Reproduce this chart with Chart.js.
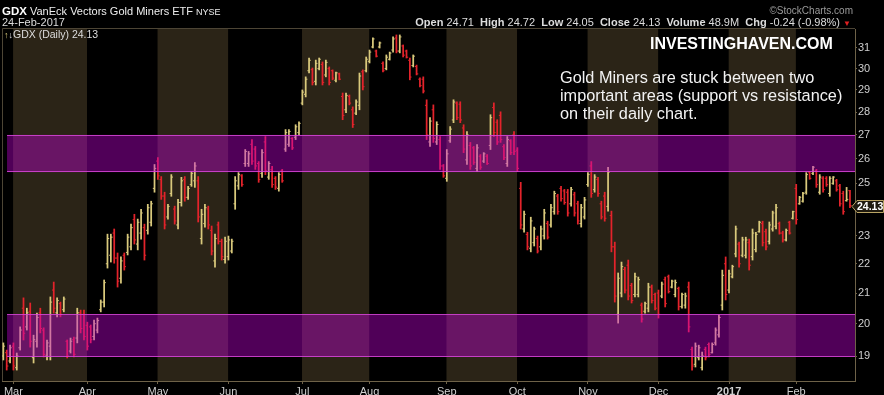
<!DOCTYPE html>
<html>
<head>
<meta charset="utf-8">
<script src="https://cdn.jsdelivr.net/npm/chart.js@4.4.1/dist/chart.umd.min.js"></script>
<style>
    body { margin: 0; background: #000; }
    #wrap { position: relative; width: 884px; height: 395px; overflow: hidden; background: #000;
            font-family: "Liberation Sans", Arial, sans-serif; color: #dcdcdc; }
    #chart { position: absolute; left: 0; top: 0; }
    .txt { position: absolute; white-space: nowrap; line-height: 13px; }
</style>
</head>
<body>
<div id="wrap">
    <canvas id="chart" width="884" height="395"></canvas>

    <div class="txt" style="left:2px;top:5px;font-size:11px;color:#eee;">
        <b style="font-size:11.5px;color:#fff;">GDX</b> VanEck Vectors Gold Miners ETF <span style="font-size:9px;">NYSE</span>
    </div>
    <div class="txt" style="left:2px;top:16px;font-size:11px;">24-Feb-2017</div>
    <div class="txt" style="right:31px;top:4px;font-size:10px;color:#9a9a9a;">©StockCharts.com</div>
    <div class="txt" style="right:33px;top:16px;font-size:11px;color:#ddd;">
        <b>Open</b> 24.71 &nbsp;<b>High</b> 24.72 &nbsp;<b>Low</b> 24.05 &nbsp;<b>Close</b> 24.13 &nbsp;<b>Volume</b> 48.9M &nbsp;<b>Chg</b> -0.24 (-0.98%) <span style="color:#e02020;font-size:8px;">▼</span>
    </div>
    <div class="txt" style="left:4px;top:28px;font-size:10.5px;color:#ddd;">
        <span style="color:#d8c878;font-size:9px;">↑</span><span style="color:#e8e8e8;font-size:9px;">↓</span>GDX (Daily) 24.13
    </div>

    <div class="txt" style="left:650px;top:36px;font-size:16px;line-height:16px;font-weight:bold;color:#fff;">INVESTINGHAVEN.COM</div>
    <div class="txt" style="left:560px;top:68px;font-size:16.3px;line-height:18px;color:#f2f2f2;">
        Gold Miners are stuck between two<br>important areas (support vs resistance)<br>on their daily chart.
    </div>
</div>

<script>
// Дневные бары GDX, 25-Feb-2016 .. 24-Feb-2017 (253 торговых дня)
const highs = [
    19.40,19.18,19.33,19.40,19.09,19.90,20.84,20.50,20.67,19.64,
    20.34,20.50,19.87,19.49,20.87,21.37,20.84,20.70,20.87,19.49,
    19.55,19.58,20.50,20.44,20.44,20.05,19.96,20.12,20.18,20.77,
    21.44,23.06,23.06,23.25,22.38,22.24,22.38,23.06,23.43,23.80,
    23.62,23.99,23.43,24.18,24.30,25.76,26.04,25.27,24.65,24.18,
    25.35,24.11,24.37,25.24,25.27,24.88,25.47,25.84,25.27,23.99,
    24.18,24.11,23.36,23.06,23.51,22.88,22.95,22.99,22.88,25.27,
    25.43,25.35,26.38,26.30,26.80,26.51,25.88,26.38,26.93,25.88,
    25.68,25.27,25.43,25.56,27.23,27.23,26.89,27.44,27.57,29.00,
    29.61,30.51,30.03,30.41,30.51,30.32,30.41,30.08,29.94,29.84,
    29.79,28.86,28.86,28.77,28.23,28.55,29.79,29.94,30.56,30.90,
    31.50,30.90,31.30,30.32,30.66,30.80,31.55,31.65,31.65,31.15,
    30.90,30.51,30.66,30.17,29.56,29.61,28.55,27.75,28.32,27.57,
    26.93,25.76,26.38,27.36,28.55,28.46,28.46,27.44,27.14,26.68,
    26.51,26.59,26.17,26.25,26.17,27.88,28.41,27.66,28.01,26.59,
    26.93,26.80,27.14,26.46,25.04,23.92,23.13,23.69,23.32,22.99,
    23.36,23.99,23.54,24.18,24.69,24.57,24.88,24.76,24.76,24.84,
    24.65,24.30,24.18,24.45,25.43,25.88,25.35,25.24,24.30,24.65,
    25.64,23.92,22.77,21.68,22.06,21.88,22.13,21.33,21.68,21.54,
    20.67,20.70,21.33,21.27,21.00,21.10,21.37,21.54,21.61,21.44,
    21.44,21.20,21.00,21.00,21.37,19.27,19.40,19.33,19.12,19.27,
    19.40,19.40,19.87,20.28,21.78,22.24,21.78,21.95,23.36,22.77,
    22.95,22.95,22.88,23.25,23.13,23.54,23.54,23.25,23.51,23.92,
    24.18,23.51,23.17,23.25,23.54,23.92,24.96,24.49,24.65,25.43,
    25.47,25.68,25.56,25.35,25.27,25.27,25.27,25.27,25.16,24.96,
    24.69,24.84,24.72
];
const lows = [
    18.88,18.58,18.79,18.58,18.58,19.18,19.49,19.80,19.27,18.79,
    19.27,19.71,18.97,18.88,18.88,20.34,20.22,20.22,20.38,18.94,
    19.09,18.97,19.40,19.71,19.49,19.18,19.40,19.49,19.71,20.38,
    20.54,21.85,22.06,22.02,21.20,21.33,21.78,22.31,22.49,22.70,
    22.49,22.88,22.13,23.06,23.36,24.65,25.16,24.37,23.25,23.62,
    24.49,23.43,23.25,24.11,24.30,24.37,24.88,24.84,23.51,22.70,
    23.32,23.25,22.31,21.88,22.70,22.13,22.02,22.13,22.38,23.99,
    24.76,24.88,25.68,25.68,25.76,25.56,25.04,25.24,25.35,25.16,
    24.84,24.76,24.69,25.04,26.30,26.51,26.38,26.80,27.01,28.32,
    28.68,29.79,29.23,29.23,29.94,29.23,29.61,29.23,29.47,29.37,
    29.47,27.66,27.97,28.32,27.32,27.88,28.10,29.00,29.84,30.27,
    31.00,30.56,31.00,29.84,29.94,30.41,30.80,30.76,30.76,30.56,
    30.51,29.47,30.08,29.70,29.14,28.86,26.80,26.51,26.68,26.59,
    25.56,25.24,25.08,26.68,27.53,27.66,27.53,26.25,25.76,25.56,
    25.76,25.47,25.56,25.84,25.76,26.38,26.93,26.59,26.68,25.96,
    25.68,26.17,26.17,25.47,23.25,23.13,22.49,22.42,22.63,22.38,
    22.49,22.88,22.88,23.32,23.80,23.80,24.30,24.18,23.73,24.11,
    23.73,23.43,23.32,23.62,24.88,24.45,24.65,24.49,23.62,23.54,
    23.92,22.42,20.70,20.02,20.87,21.00,20.77,20.67,20.87,20.87,
    20.05,20.34,20.38,20.67,20.44,20.18,20.84,20.54,21.00,21.17,
    20.87,20.44,20.50,20.50,19.74,18.58,18.67,18.88,18.58,18.88,
    18.97,19.09,19.33,19.58,20.44,20.77,21.00,21.51,22.24,21.88,
    22.24,22.20,21.78,22.13,22.42,23.13,22.63,22.49,22.70,23.17,
    23.25,23.06,22.77,22.81,23.06,23.62,23.43,24.18,24.26,24.57,
    25.16,25.35,24.84,24.57,24.65,24.88,24.49,24.96,24.69,24.11,
    23.80,24.30,24.05
];
const opens = [
    19.00,19.10,18.85,19.30,18.65,19.25,20.50,19.90,20.40,18.95,
    19.45,20.35,19.80,19.00,19.30,21.10,20.35,20.65,20.45,19.45,
    19.15,19.50,19.55,20.35,20.30,19.95,19.90,19.60,19.80,20.45,
    20.70,22.00,22.30,23.10,22.20,21.50,22.30,22.40,22.60,23.60,
    22.70,23.10,23.30,23.20,23.50,24.80,25.90,25.15,24.50,23.70,
    24.60,24.00,23.40,24.25,25.15,24.45,24.95,25.10,25.10,22.90,
    23.45,24.00,23.20,22.10,23.40,22.80,22.15,22.25,22.45,24.20,
    24.90,25.30,25.80,25.80,26.60,26.40,25.80,25.40,26.70,25.25,
    25.55,25.20,24.80,25.50,26.40,26.60,26.85,26.90,27.10,28.40,
    28.80,29.90,29.95,29.40,30.00,30.20,29.70,30.00,29.90,29.45,
    29.75,28.70,28.10,28.70,28.10,27.95,28.30,29.85,29.90,30.35,
    31.05,30.85,31.05,30.25,30.00,30.45,30.90,31.50,30.85,31.10,
    30.85,30.40,30.15,30.10,29.50,29.50,28.30,26.70,28.10,26.70,
    26.80,25.70,25.20,26.75,27.65,28.40,28.35,27.30,25.95,26.55,
    26.45,25.60,26.10,25.90,26.10,26.55,28.20,27.55,27.85,26.50,
    25.80,26.75,27.00,26.35,24.80,23.25,23.05,22.55,22.75,22.90,
    22.60,23.00,23.45,23.40,23.90,24.50,24.80,24.70,24.65,24.20,
    24.55,24.20,23.45,23.70,24.95,25.70,24.75,25.15,24.20,24.50,
    24.10,23.75,22.60,20.30,21.00,21.80,21.95,21.25,20.95,20.95,
    20.60,20.40,20.50,21.20,20.95,21.00,20.90,21.45,21.55,21.20,
    20.95,21.15,20.55,20.60,21.20,19.20,18.75,18.95,18.65,19.20,
    19.35,19.10,19.40,19.65,20.60,22.00,21.10,21.55,22.35,22.70,
    22.30,22.30,22.75,22.25,22.50,23.15,23.45,23.15,22.80,23.25,
    23.35,23.45,23.10,22.85,23.50,23.65,24.80,24.20,24.30,24.65,
    25.45,25.40,25.50,24.65,25.20,25.20,24.60,25.00,25.10,24.90,
    24.60,24.32,24.71
];
const closes = [
    19.30,18.70,19.25,18.70,19.00,19.80,19.70,20.35,19.45,19.50,
    20.20,19.85,19.05,19.40,20.70,20.50,20.75,20.30,20.80,19.00,
    19.45,19.05,20.35,19.85,19.60,19.30,19.50,20.00,20.10,20.70,
    21.35,22.90,22.95,22.20,21.40,22.10,21.90,22.95,23.30,22.85,
    23.50,23.85,22.30,24.05,24.20,25.60,25.30,24.50,23.40,24.10,
    25.25,23.55,24.25,25.10,24.45,24.80,25.40,25.70,23.70,23.80,
    24.05,23.40,22.45,22.90,22.80,22.25,22.80,22.85,22.80,25.10,
    25.35,24.95,26.30,26.20,25.90,25.70,25.15,26.25,25.50,25.80,
    24.95,24.85,25.35,25.10,27.10,27.15,26.45,27.35,27.50,28.90,
    29.50,30.40,29.35,30.25,30.45,29.35,30.30,29.35,29.55,29.80,
    29.50,27.85,28.75,28.40,27.45,28.45,29.65,29.15,30.45,30.80,
    31.45,30.60,31.25,29.90,30.55,30.75,31.45,30.85,31.55,30.65,
    30.55,29.60,30.60,29.75,29.20,28.95,27.00,27.60,26.85,27.45,
    25.70,25.30,26.20,27.25,28.45,27.75,27.65,26.40,27.00,25.70,
    25.85,26.45,25.65,26.20,25.80,27.75,27.10,26.70,26.80,26.05,
    26.80,26.25,26.30,25.60,23.40,23.80,22.60,23.55,23.25,22.45,
    23.25,23.85,22.95,24.05,24.60,23.90,24.40,24.25,23.85,24.75,
    23.85,23.55,24.05,24.35,25.35,24.60,25.25,24.60,23.70,23.65,
    25.45,22.60,20.90,21.50,21.90,21.10,20.90,20.75,21.55,21.45,
    20.15,20.65,21.20,20.75,20.50,20.30,21.30,20.65,21.05,21.40,
    21.35,20.55,20.95,20.90,19.90,18.70,19.30,19.25,19.00,18.95,
    19.05,19.35,19.80,20.20,21.60,20.95,21.65,21.90,23.25,22.00,
    22.85,22.85,21.95,23.10,23.05,23.50,22.75,22.60,23.40,23.85,
    24.05,23.10,22.85,23.20,23.10,23.90,23.60,24.45,24.60,25.35,
    25.20,25.65,24.95,25.25,24.75,24.95,25.20,25.25,24.75,24.20,
    23.90,24.37,24.13
];

// Первые торговые дни месяцев (индексы баров) и подписи оси X
const monthTickIdx = [3, 25, 46, 67, 89, 109, 132, 153, 174, 195, 216, 236];
const monthTickLabels = ['Mar', 'Apr', 'May', 'Jun', 'Jul', 'Aug', 'Sep', 'Oct', 'Nov', 'Dec', '2017', 'Feb'];

// Деления правой оси
const yTicks = [19, 20, 21, 22, 23, 24, 25, 26, 27, 28, 29, 30, 31];

// Зоны поддержки и сопротивления [низ, верх], начинаются со второго бара
const resistanceZone = [25.45, 27.0];
const supportZone = [18.97, 20.3];
const zoneStartIdx = 1.1;

const UP_COLOR = '#d9c97c';
const DOWN_COLOR = '#e3232b';
const MONTH_SHADE = '#2b2417';
const AXIS_COLOR = '#6e6248';
const FONT = '"Liberation Sans", Arial, sans-serif';

const barColors = closes.map((c, i) => c >= opens[i] ? UP_COLOR : DOWN_COLOR);

const stockChartsPlugin = {
    id: 'stockcharts',
    beforeDraw(chart) {
        const { ctx, chartArea: a, scales: { x } } = chart;
        ctx.save();
        ctx.fillStyle = MONTH_SHADE;
        for (let k = 0; k < monthTickIdx.length; k += 2) {
            const x0 = x.getPixelForValue(monthTickIdx[k] - 0.1);
            const x1 = k + 1 < monthTickIdx.length ? x.getPixelForValue(monthTickIdx[k + 1] - 0.1) : a.right;
            ctx.fillRect(x0, a.top, x1 - x0, a.bottom - a.top);
        }
        // рамка графика
        ctx.strokeStyle = '#4d4535';
        ctx.lineWidth = 1;
        ctx.beginPath();
        ctx.moveTo(a.left + 0.5, a.bottom);
        ctx.lineTo(a.left + 0.5, a.top - 0.5);
        ctx.lineTo(a.right, a.top - 0.5);
        ctx.stroke();
        ctx.restore();
    },
    afterDatasetsDraw(chart) {
        const { ctx, chartArea: a, scales: { x, y } } = chart;
        const x0 = x.getPixelForValue(zoneStartIdx);
        ctx.save();
        [resistanceZone, supportZone].forEach(zone => {
            const top = y.getPixelForValue(zone[1]);
            const bottom = y.getPixelForValue(zone[0]);
            ctx.fillStyle = 'rgba(200, 0, 220, 0.4)';
            ctx.fillRect(x0, top, a.right - x0, bottom - top);
            ctx.strokeStyle = 'rgba(215, 70, 215, 0.85)';
            ctx.lineWidth = 1;
            ctx.beginPath();
            ctx.moveTo(x0, Math.round(top) + 0.5);
            ctx.lineTo(a.right, Math.round(top) + 0.5);
            ctx.moveTo(x0, Math.round(bottom) - 0.5);
            ctx.lineTo(a.right, Math.round(bottom) - 0.5);
            ctx.stroke();
        });
        ctx.restore();
    },
    afterDraw(chart) {
        // ярлык последней цены на правой оси
        const { ctx, chartArea: a, scales: { y } } = chart;
        const last = closes[closes.length - 1];
        const yc = Math.round(y.getPixelForValue(last)) + 0.5;
        ctx.save();
        ctx.beginPath();
        ctx.moveTo(a.right - 3, yc);
        ctx.lineTo(a.right + 2, yc - 6);
        ctx.lineTo(883.5, yc - 6);
        ctx.lineTo(883.5, yc + 6);
        ctx.lineTo(a.right + 2, yc + 6);
        ctx.closePath();
        ctx.fillStyle = '#1e190e';
        ctx.fill();
        ctx.strokeStyle = '#b9a464';
        ctx.stroke();
        ctx.fillStyle = '#ffffff';
        ctx.font = 'bold 10.5px ' + FONT;
        ctx.textBaseline = 'middle';
        ctx.fillText(last.toFixed(2), a.right + 2, yc + 0.5);
        ctx.restore();
    }
};

new Chart(document.getElementById('chart'), {
    type: 'bar',
    data: {
        datasets: [
            {
                type: 'line',
                data: opens.map((v, i) => ({ x: i, y: v })),
                showLine: false,
                pointStyle: 'dash',
                pointRotation: 180,
                pointRadius: 1.7,
                pointBorderWidth: 1,
                pointBorderColor: barColors,
                order: 1
            },
            {
                type: 'line',
                data: closes.map((v, i) => ({ x: i, y: v })),
                showLine: false,
                pointStyle: 'dash',
                pointRotation: 0,
                pointRadius: 1.7,
                pointBorderWidth: 1,
                pointBorderColor: barColors,
                order: 1
            },
            {
                type: 'bar',
                data: lows.map((l, i) => ({ x: i, y: [l, highs[i]] })),
                backgroundColor: barColors,
                borderWidth: 0,
                barThickness: 1.1,
                order: 2
            }
        ]
    },
    options: {
        responsive: false,
        animation: false,
        devicePixelRatio: 1,
        events: [],
        layout: { autoPadding: false, padding: { left: 2, top: 29, right: 0, bottom: 0 } },
        plugins: { legend: { display: false }, tooltip: { enabled: false } },
        scales: {
            x: {
                type: 'linear',
                min: -0.4,
                max: 253.5,
                offset: false,
                grid: { display: true, drawOnChartArea: false, drawTicks: true, tickLength: 3, color: AXIS_COLOR, offset: false },
                border: { display: true, color: AXIS_COLOR, dash: [1, 1] },
                ticks: {
                    padding: 1,
                    color: '#cfcfcf',
                    autoSkip: false,
                    maxRotation: 0,
                    font: ctx => ({ family: FONT, size: 11, weight: ctx.tick && ctx.tick.label === '2017' ? 'bold' : 'normal' }),
                    callback: v => monthTickLabels[monthTickIdx.indexOf(v)]
                },
                afterBuildTicks: s => { s.ticks = monthTickIdx.map(v => ({ value: v })); },
                afterFit: s => { s.height = 14; s.paddingLeft = 0; s.paddingRight = 0; }
            },
            y: {
                type: 'logarithmic',
                position: 'right',
                min: 18.26,
                max: 31.95,
                bounds: 'data',
                grid: { display: true, drawOnChartArea: false, drawTicks: true, tickLength: 2, color: AXIS_COLOR },
                border: { display: true, color: AXIS_COLOR, dash: [1, 1] },
                ticks: { padding: 1, color: '#cfcfcf', font: { family: FONT, size: 11 }, callback: v => String(v) },
                afterBuildTicks: s => { s.ticks = yTicks.map(v => ({ value: v })); },
                afterFit: s => { s.width = 29; s.paddingTop = 0; s.paddingBottom = 0; }
            }
        }
    },
    plugins: [stockChartsPlugin]
});
</script>
</body>
</html>
